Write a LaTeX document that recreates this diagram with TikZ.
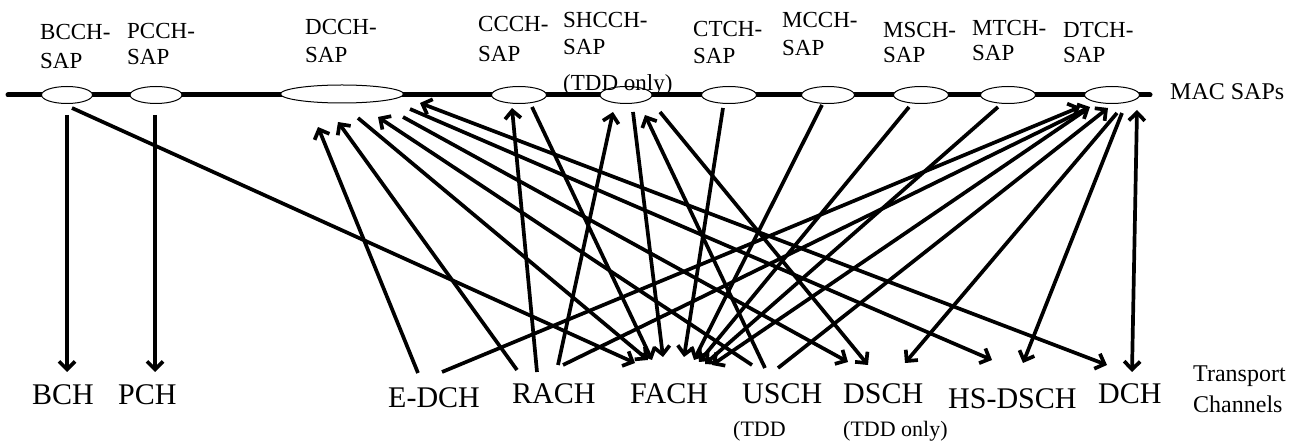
\documentclass[tikz,border=0pt]{standalone}
\usepackage{fontspec}
\setmainfont{Liberation Serif}
\usetikzlibrary{arrows.meta,shapes.geometric}
\begin{document}
\begin{tikzpicture}[x=1pt,y=-1pt,
  saplbl/.style={anchor=base west,inner sep=0,font=\fontsize{23}{27}\selectfont},
  chlbl/.style={anchor=base west,inner sep=0,font=\fontsize{30}{34}\selectfont},
  sidelbl/.style={anchor=base west,inner sep=0,font=\fontsize{24}{28}\selectfont},
  tddlbl/.style={anchor=base west,inner sep=0,font=\fontsize{22}{26}\selectfont},
  sapshape/.style={ellipse,draw,fill=white,line width=1pt,inner sep=0,minimum height=17pt},
  conn/.style={line width=3.7pt},
  arr/.style={conn,-{Straight Barb[length=8pt,width=16pt]}},
  dbl/.style={conn,{Straight Barb[length=8pt,width=16pt]}-{Straight Barb[length=8pt,width=16pt]}},
  bar/.style={line width=5pt,line cap=round}
]
\useasboundingbox (0,0) rectangle (1293,443);

% ---- end points near SAPs
\coordinate (bcch1) at (67,115);
\coordinate (bcch2) at (72,108);
\coordinate (pcch1) at (155,115);
\coordinate (dcchA) at (318,127);
\coordinate (dcchB) at (338,122);
\coordinate (dcchC) at (378,117);
\coordinate (dcchD) at (420,103);
\coordinate (dcchE) at (358,118);
\coordinate (dcchF) at (403,117);
\coordinate (dcchG) at (410,109);
\coordinate (ccchA) at (512,108);
\coordinate (ccchB) at (532,107);
\coordinate (shA) at (613,112);
\coordinate (shB) at (645,115);
\coordinate (shC) at (633,112);
\coordinate (shD) at (660,112);
\coordinate (ctch1) at (723,108);
\coordinate (mcch1) at (822,105);
\coordinate (msch1) at (909,107);
\coordinate (mtch1) at (998,107);
\coordinate (dtchA) at (1080,107);
\coordinate (dtchB) at (1090,107);
\coordinate (dtchC) at (1108,108);
\coordinate (dtchD) at (1117,113);
\coordinate (dtchE) at (1122,113);
\coordinate (dtchF) at (1086,110);
\coordinate (dtchG) at (1137,110);

% ---- end points near transport channels
\coordinate (bchT) at (67,372);
\coordinate (pchT) at (155,372);
\coordinate (edch1) at (418,373);
\coordinate (edch2) at (442,372);
\coordinate (rach1) at (517,370);
\coordinate (rach2) at (537,372);
\coordinate (rach3) at (558,365);
\coordinate (rach4) at (563,365);
\coordinate (fachA) at (635,363);
\coordinate (fachB) at (648,360);
\coordinate (fachC) at (652,360);
\coordinate (fachD) at (663,357);
\coordinate (fachE) at (684,357);
\coordinate (fachF) at (694,360);
\coordinate (fachG) at (699,362);
\coordinate (fachH) at (705,364);
\coordinate (fachI) at (712,365);
\coordinate (usch1) at (752,365);
\coordinate (usch2) at (765,368);
\coordinate (usch3) at (778,368);
\coordinate (dschA) at (848,362);
\coordinate (dschB) at (868,365);
\coordinate (dschC) at (905,363);
\coordinate (hsA) at (992,360);
\coordinate (hsB) at (1023,363);
\coordinate (dchA) at (1107,365);
\coordinate (dchB) at (1132,372);

% ---- connectors
\draw[arr] (bcch1) -- (bchT);
\draw[arr] (bcch2) -- (fachA);
\draw[arr] (pcch1) -- (pchT);
\draw[arr] (edch1) -- (dcchA);
\draw[arr] (rach1) -- (dcchB);
\draw[arr] (usch1) -- (dcchC);
\draw[dbl] (dcchD) -- (dchA);
\draw[arr] (dcchE) -- (fachB);
\draw[arr] (dcchF) -- (dschA);
\draw[arr] (dcchG) -- (hsA);
\draw[arr] (rach2) -- (ccchA);
\draw[arr] (ccchB) -- (fachC);
\draw[arr] (rach3) -- (shA);
\draw[arr] (usch2) -- (shB);
\draw[arr] (shC) -- (fachD);
\draw[arr] (shD) -- (dschB);
\draw[arr] (ctch1) -- (fachE);
\draw[arr] (mcch1) -- (fachF);
\draw[arr] (msch1) -- (fachG);
\draw[arr] (mtch1) -- (fachH);
\draw[arr] (dtchF) -- (fachI);
\draw[arr] (edch2) -- (dtchA);
\draw[arr] (rach4) -- (dtchB);
\draw[arr] (usch3) -- (dtchC);
\draw[arr] (dtchD) -- (dschC);
\draw[arr] (dtchE) -- (hsB);
\draw[dbl] (dtchG) -- (dchB);

% ---- MAC SAP bar and SAPs
\coordinate (barL) at (8,95);
\coordinate (barR) at (1150,95);
\draw[bar] (barL) -- (barR);
\node[sapshape,minimum width=51pt] (bcchS) at (67,95) {};
\node[sapshape,minimum width=52pt] (pcchS) at (156,95) {};
\node[sapshape,minimum width=123pt,minimum height=18pt] (dcchS) at (342,94) {};
\node[sapshape,minimum width=55pt] (ccchS) at (519,95) {};
\node[sapshape,minimum width=52pt] (shcchS) at (626,95) {};
\node[sapshape,minimum width=55pt] (ctchS) at (729,95) {};
\node[sapshape,minimum width=53pt] (mcchS) at (828,95) {};
\node[sapshape,minimum width=55pt] (mschS) at (921,95) {};
\node[sapshape,minimum width=55pt] (mtchS) at (1008,95) {};
\node[sapshape,minimum width=55pt] (dtchS) at (1112,95) {};

% ---- SAP labels
\node[saplbl] (bcchL1) at (40,40) {BCCH-};
\node[saplbl] (bcchL2) at (40,69) {SAP};
\node[saplbl] (pcchL1) at (127,39) {PCCH-};
\node[saplbl] (pcchL2) at (127,65) {SAP};
\node[saplbl] (dcchL1) at (305,35) {DCCH-};
\node[saplbl] (dcchL2) at (305,63) {SAP};
\node[saplbl] (ccchL1) at (478,32) {CCCH-};
\node[saplbl] (ccchL2) at (478,62) {SAP};
\node[saplbl] (shcchL1) at (563,28) {SHCCH-};
\node[saplbl] (shcchL2) at (563,55) {SAP};
\node[saplbl] (shcchL3) at (563,91) {(TDD only)};
\node[saplbl] (ctchL1) at (693,37) {CTCH-};
\node[saplbl] (ctchL2) at (693,64) {SAP};
\node[saplbl] (mcchL1) at (782,28) {MCCH-};
\node[saplbl] (mcchL2) at (782,56) {SAP};
\node[saplbl] (mschL1) at (883,38) {MSCH-};
\node[saplbl] (mschL2) at (883,63) {SAP};
\node[saplbl] (mtchL1) at (972,36) {MTCH-};
\node[saplbl] (mtchL2) at (972,61) {SAP};
\node[saplbl] (dtchL1) at (1063,38) {DTCH-};
\node[saplbl] (dtchL2) at (1063,63) {SAP};
\node[sidelbl] (macsaps) at (1170,100) {MAC SAPs};

% ---- transport channels
\node[chlbl] (bch) at (32,405) {BCH};
\node[chlbl] (pch) at (118,405) {PCH};
\node[chlbl] (edch) at (388,407) {E-DCH};
\node[chlbl] (rach) at (512,403) {RACH};
\node[chlbl] (fach) at (630,403) {FACH};
\node[chlbl] (usch) at (742,403) {USCH};
\node[chlbl] (dsch) at (843,403) {DSCH};
\node[chlbl] (hsdsch) at (948,408) {HS-DSCH};
\node[chlbl] (dch) at (1098,403) {DCH};
\node[tddlbl] (uschtdd) at (733,436) {(TDD};
\node[tddlbl] (dschtdd) at (843,436) {(TDD only)};
\node[sidelbl] (tr1) at (1193,382) {Transport};
\node[sidelbl] (tr2) at (1193,412) {Channels};
\end{tikzpicture}
\end{document}
